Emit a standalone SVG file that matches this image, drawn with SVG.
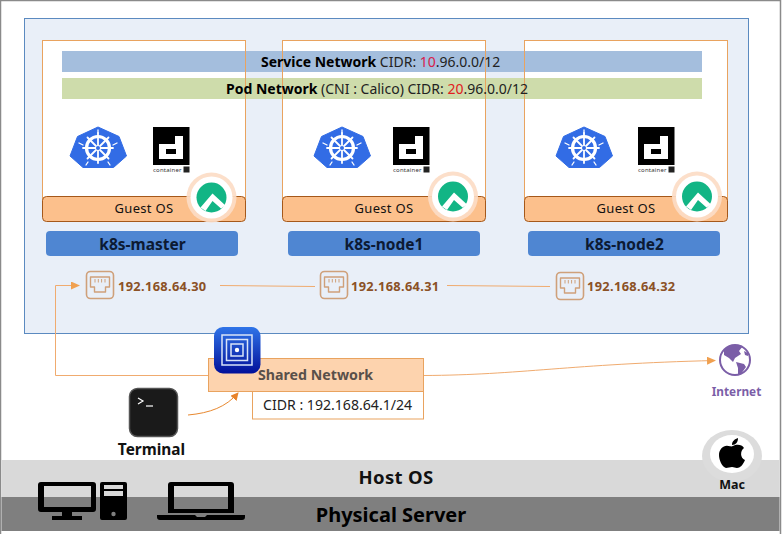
<svg xmlns="http://www.w3.org/2000/svg" width="783" height="534" viewBox="0 0 783 534">
<style>
text{font-family:"Noto Sans","Open Sans","Liberation Sans",sans-serif}
.frame{fill:none;stroke:#e9a35f;stroke-width:1}
.guest{fill:#fcc08c;stroke:#a5581a;stroke-width:1}
.gt{font-size:13px;fill:#111;text-anchor:middle;letter-spacing:.3px}
.name{fill:#4f86d2}
.nt{font-size:15.500px;font-weight:700;fill:#0c1a33;text-anchor:middle}
.ip{font-size:12.800px;font-weight:700;fill:#8b5126;letter-spacing:.35px}
.band{font-size:14px;fill:#222}
.conn{fill:none;stroke:#f0ab6f;stroke-width:1}
.conn2{fill:none;stroke:#e8882f;stroke-width:1}
</style>
<defs>
<marker id="arr" markerWidth="9" markerHeight="8" refX="8" refY="4" orient="auto" markerUnits="userSpaceOnUse"><path d="M0 0L9 4L0 8Z" fill="#f0a050"/></marker>
<marker id="arr2" markerWidth="8" markerHeight="8" refX="7" refY="4" orient="auto" markerUnits="userSpaceOnUse"><path d="M0 0L8 4L0 8Z" fill="#e8832a"/></marker>
<symbol id="k8s" overflow="visible">
<path d="M28 0L49 9.500L56.500 29L43.500 40.500L13 40.500L0 29L7.500 9.500Z" fill="#326ce5" stroke="#326ce5" stroke-width="1" stroke-linejoin="round"/>
<g fill="none" stroke="#fff" stroke-linecap="round">
<circle cx="28" cy="21" r="11.500" stroke-width="3.200"/>
<path stroke-width="1.800" d="M28 6V36M13 21H43M17.500 10.500L38.500 31.500M38.500 10.500L17.500 31.500"/>
<path stroke-width="1.300" d="M28 6V3M43 18L47 16M9 16L13 18M18 35L16 38M38 35L40 38"/>
</g>
<circle cx="28" cy="21" r="2" fill="#326ce5"/>
</symbol>
<symbol id="ctr" overflow="visible">
<rect width="36.500" height="38" fill="#000"/>
<path fill="#fff" fill-rule="evenodd" d="M6 17H22V9H30V32H6ZM13 22V27H23V22Z"/>
<text x="0" y="44.500" font-size="6" fill="#333" letter-spacing=".2">container</text>
<rect x="30.500" y="39.500" width="6" height="6" fill="#222"/>
</symbol>
<symbol id="rocky" overflow="visible">
<circle r="25" fill="#fcdcc6" fill-opacity=".92"/>
<circle r="21" fill="#fff"/>
<circle r="15" fill="#12b585"/>
<path d="M-11 10L1 -4L14 8L9.500 11L1 3.500L-6 13.500Z" fill="#fff"/>
</symbol>
<symbol id="eth" overflow="visible">
<rect x=".5" y=".5" width="27" height="27" rx="4" fill="none" stroke="#cfa07a" stroke-width="1.600"/>
<path d="M4.500 6H23.500V16H19.500V21H8.500V16H4.500Z" fill="none" stroke="#cfa07a" stroke-width="1.400" stroke-linejoin="round"/>
<path d="M9 8V11.500M12.300 8V11.500M15.600 8V11.500M19 8V11.500" stroke="#cfa07a" stroke-width="1"/>
</symbol>
<linearGradient id="uv" x1="0" y1="0" x2="0" y2="1"><stop offset="0" stop-color="#2f74e8"/><stop offset="1" stop-color="#02109a"/></linearGradient>
</defs>

<rect x=".5" y=".5" width="780" height="540" fill="#fff" stroke="#8a8a8a" stroke-width="1.500"/>
<rect id="vm-network" x="24.500" y="18.500" width="724" height="315" fill="#e9eff8" stroke="#5b8ac0" stroke-width="1"/>

<g id="vm-fills" fill="#fff">
<rect x="42.500" y="40.500" width="203" height="170"/>
<rect x="282.500" y="40.500" width="203" height="170"/>
<rect x="524.500" y="40.500" width="203" height="170"/>
</g>
<rect x="62" y="51" width="640" height="21" fill="#a4bedd"/>
<rect x="62" y="78" width="640" height="21" fill="#cedcab"/>
<g id="vm-frames">
<rect class="frame" x="42.500" y="40.500" width="203" height="170"/>
<rect class="frame" x="282.500" y="40.500" width="203" height="170"/>
<rect class="frame" x="524.500" y="40.500" width="203" height="170"/>
</g>
<g id="service-network"><text class="band" x="261" y="67"><tspan font-weight="700" fill="#000">Service Network</tspan> CIDR: <tspan fill="#d8204a">10</tspan>.96.0.0/12</text></g>
<g id="pod-network"><text class="band" x="226" y="94"><tspan font-weight="700" fill="#000">Pod Network</tspan> (CNI : Calico) CIDR: <tspan fill="#e02020">20</tspan>.96.0.0/12</text></g>

<g id="k8s-master">
<use href="#k8s" x="70" y="127"/><use href="#ctr" x="153" y="127"/>
<rect class="guest" x="42.500" y="196.500" width="203" height="25" rx="4"/>
<text class="gt" x="144" y="213">Guest OS</text>
<use href="#rocky" x="211.500" y="197.500"/>
<rect class="name" x="46" y="231" width="192" height="25" rx="4"/>
<text class="nt" x="142.500" y="250">k8s-master</text>
</g>
<g id="k8s-node1">
<use href="#k8s" x="314" y="127"/><use href="#ctr" x="393" y="127"/>
<rect class="guest" x="282.500" y="196.500" width="203" height="25" rx="4"/>
<text class="gt" x="384" y="213">Guest OS</text>
<use href="#rocky" x="453" y="196.500"/>
<rect class="name" x="288" y="231" width="192" height="25" rx="4"/>
<text class="nt" x="384" y="250">k8s-node1</text>
</g>
<g id="k8s-node2">
<use href="#k8s" x="556" y="127"/><use href="#ctr" x="638" y="127"/>
<rect class="guest" x="524.500" y="196.500" width="203" height="25" rx="4"/>
<text class="gt" x="626" y="213">Guest OS</text>
<use href="#rocky" x="697" y="196.500"/>
<rect class="name" x="528" y="231" width="192" height="25" rx="4"/>
<text class="nt" x="624.500" y="250">k8s-node2</text>
</g>

<g id="connectors">
<path class="conn" d="M220 285.500L315 286.500"/>
<path class="conn" d="M447 285.500L550 286.500"/>
<path class="conn" d="M208 375.500H55.500V285.500H79" marker-end="url(#arr)"/>
<path class="conn" d="M424 375.500C520 375 570 364 715 360.500" marker-end="url(#arr)"/>
<path class="conn2" d="M188 415C210 413 226 407 238 393" marker-end="url(#arr2)"/>
</g>

<g id="ip-30"><use href="#eth" x="86" y="271"/><text class="ip" x="118" y="291">192.168.64.30</text></g>
<g id="ip-31"><use href="#eth" x="320" y="271"/><text class="ip" x="351" y="291">192.168.64.31</text></g>
<g id="ip-32"><use href="#eth" x="556" y="272"/><text class="ip" x="587" y="291">192.168.64.32</text></g>

<g id="shared-network">
<rect x="252.500" y="391" width="171" height="28" fill="#fff" stroke="#e9a35f"/>
<text x="263" y="410" font-size="14.100" fill="#222">CIDR : 192.168.64.1/24</text>
<rect x="208.500" y="358.500" width="215" height="33" fill="#fdd3ae" stroke="#e9a35f"/>
<text x="258" y="380" font-size="14.200" font-weight="700" fill="#59504a">Shared Network</text>
</g>
<g id="utm-icon">
<rect x="214" y="327" width="46.500" height="46.500" rx="9" fill="url(#uv)"/>
<g fill="none" stroke="#d9e4f8"><rect x="222" y="335" width="30" height="30" stroke-width="1.500"/><rect x="226.500" y="339.500" width="21" height="21" stroke-width="1.500"/><rect x="231" y="344" width="12" height="12" stroke-width="1.500"/></g>
<circle cx="237" cy="350" r="2.200" fill="#fff"/>
</g>
<g id="terminal">
<rect x="129.500" y="388.500" width="48" height="48" rx="8" fill="#1a1a1a" stroke="#555" stroke-width="1.500"/>
<path d="M138 398L143 401L138 404" fill="none" stroke="#fff" stroke-width="1.200"/><path d="M146 406H153" stroke="#fff" stroke-width="1.200"/>
<text x="151.500" y="455" font-size="15.400" font-weight="700" fill="#111" text-anchor="middle">Terminal</text>
</g>
<g id="internet">
<circle cx="735" cy="360" r="15" fill="#fff" stroke="#7b5ea7" stroke-width="2"/>
<path fill="#7b5ea7" d="M724 350C728 345 736 344 743 346L739 351L741 354L735 358L733 362L729 358L724 355ZM736 362L744 364L746 367L741 374L738 374L738 368ZM744 351L748 353L748 356L745 355Z"/>
<text x="736.500" y="396" font-size="11.800" font-weight="700" fill="#7b5ea7" text-anchor="middle">Internet</text>
</g>

<rect id="host-os-layer" x="1.500" y="460" width="778" height="37" fill="#d9d9d9"/>
<rect id="physical-layer" x="1.500" y="497" width="778" height="34" fill="#7f7f7f"/>
<text x="396" y="484" font-size="18.500" font-weight="700" fill="#111" text-anchor="middle" letter-spacing=".3">Host OS</text>
<text x="391" y="522" font-size="20" font-weight="700" fill="#000" text-anchor="middle">Physical Server</text>

<g id="mac">
<ellipse cx="732" cy="456" rx="30" ry="26" fill="#dcdcdc"/>
<ellipse cx="732" cy="454" rx="22" ry="19" fill="#fff"/>
<path fill="#000" d="M733 446C736 444 742 444 744 448C740 451 740 458 745 460C743 465 740 468 737 468C735 468 734 467 732 467C730 467 728 468 726 468C722 467 719 460 719 455C719 449 724 445 728 446C730 446 731 447 733 446ZM732 445C732 441 735 439 738 438C738 442 736 445 732 445Z"/>
<text x="732" y="489" font-size="12.500" font-weight="700" fill="#111" text-anchor="middle">Mac</text>
</g>
<g id="desktop" fill="#000">
<path fill-rule="evenodd" d="M41 482H93Q96 482 96 485V509Q96 512 93 512H72V516H82V520H52V516H62V512H41Q38 512 38 509V485Q38 482 41 482ZM44 486V507H91V486Z"/>
<path fill-rule="evenodd" d="M102 482H125Q127 482 127 484V518Q127 520 125 520H102Q100 520 100 518V484Q100 482 102 482ZM104 485V489H123V485ZM104 491V496H123V491Z"/>
<circle cx="113.500" cy="514" r="2.200" fill="#7f7f7f"/>
</g>
<g id="laptop" fill="#000">
<path fill-rule="evenodd" d="M171 482H231Q234 482 234 485V513H168V485Q168 482 171 482ZM174 486V509H228V486Z"/>
<path d="M157 515H195L197 517H205L207 515H245V517Q245 520 242 520H160Q157 520 157 517Z"/>
</g>
</svg>
